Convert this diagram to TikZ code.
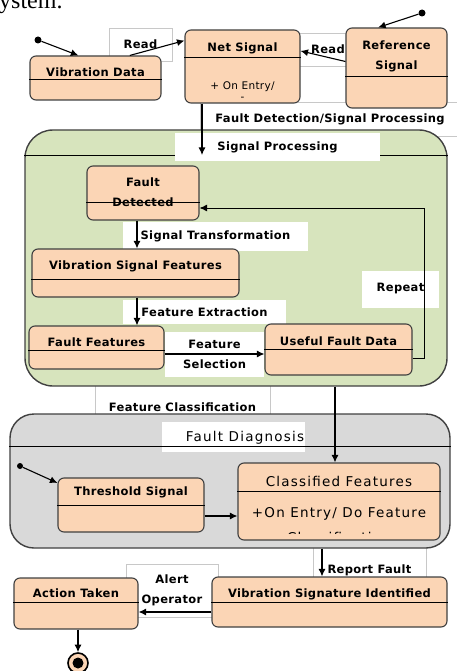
\documentclass[tikz,border=0pt]{standalone}
\usepackage{fontspec}
\setmainfont{DejaVu Sans}[LetterSpace=3]
\newfontfamily\widefont{DejaVu Sans}[LetterSpace=9]
\newfontfamily\pagefont{Liberation Serif}
\usetikzlibrary{arrows.meta,positioning,calc}

\definecolor{statefill}{HTML}{FBD5B5}
\definecolor{procfill}{HTML}{D7E4BD}
\definecolor{diagfill}{HTML}{D9D9D9}
\definecolor{edgegrey}{HTML}{404040}
\definecolor{tagline}{HTML}{C8C8C8}

\begin{document}
\begin{tikzpicture}[
    x=1pt, y=-1pt,
    >={Latex[length=7.5pt,width=7pt]},
    every node/.style={font=\fontsize{11.5}{20}\selectfont\bfseries, align=center, inner sep=0pt},
    statebox/.style={draw=edgegrey, line width=1.1pt, rounded corners=6pt, fill=statefill},
    region/.style={draw=edgegrey, line width=1.4pt},
    tagbox/.style={draw=tagline, fill=white, line width=0.6pt},
    blank/.style={fill=white},
    flow/.style={->, line width=1.1pt},
    divider/.style={draw=black, line width=0.9pt},
    startdot/.style={circle, fill=black, minimum size=7pt},
    plain/.style={font=\fontsize{10.5}{11}\selectfont},
    bigtext/.style={font=\widefont\fontsize{13.5}{15}\selectfont},
  ]
  \useasboundingbox (0,0) rectangle (457,671);
  \clip (0,0) rectangle (457,671);

  % tail of the running text above
  \node[font=\pagefont\fontsize{24}{24}\selectfont, anchor=base west] (pagetext) at (-1,9) {ystem.};

  % transition labels lying under the states
  \node[tagbox, minimum width=63, minimum height=33] (readA) at (140.5,44.5) {Read};
  \node[tagbox, minimum width=60, minimum height=33] (readB) at (328,49.5) {Read};
  \node[tagbox, minimum width=260, minimum height=34] (fdsp) at (330,119) {Fault Detection/Signal Processing};
  \node[tagbox, minimum width=175, minimum height=54] (featclass) at (182.5,407) {Feature Classification};
  \node[tagbox, minimum width=113, minimum height=60] (report) at (369.5,570) {Report Fault};
  \node[tagbox, minimum width=92, minimum height=53] (alert) at (172,590.5) {Alert\\Operator};

  % signal processing super-state
  \node[region, fill=procfill, rounded corners=28pt, minimum width=422, minimum height=256] (sigproc) at (236,258) {};
  \draw[divider] (sigproc.west |- 0,155) -- (sigproc.east |- 0,155);
  \node[blank, minimum width=205, minimum height=28] (sigproclbl) at (277.5,147) {Signal Processing};
  \node[blank, minimum width=185, minimum height=29] (sigtrans) at (215.5,236) {Signal Transformation};
  \node[blank, minimum width=163, minimum height=24] (featext) at (204.5,312) {Feature Extraction};
  \node[blank, minimum width=99, minimum height=45] (featsel) at (214.5,354) {Feature\\Selection};
  \node[blank, minimum width=77, minimum height=37] (repeat) at (400.5,289) {Repeat};

  % fault diagnosis super-state
  \node[region, fill=diagfill, rounded corners=24pt, minimum width=440, minimum height=134] (diag) at (230,481) {};
  \node[blank, minimum width=143, minimum height=30] (diaglbl) at (233.5,437) {};
  \node[bigtext] (diagtxt) at (245,438) {Fault Diagnosis};
  \draw[divider] (diag.west |- 0,446) -- (diag.east |- 0,446);

  % states
  \node[statebox, minimum width=131, minimum height=44] (vibdata) at (95.5,78) {};
  \draw[divider] (vibdata.west |- 0,79) -- (vibdata.east |- 0,79);
  \node (vibdatatxt) at (95.5,72) {Vibration Data};

  \node[statebox, minimum width=115, minimum height=73] (netsig) at (242.5,66.5) {};
  \draw[divider] (netsig.west |- 0,57) -- (netsig.east |- 0,57);
  \node (netsigtxt) at (242.5,48) {Net Signal};
  \node[plain] (netsigdo) at (242.5,91) {+ On Entry/\\-};

  \node[statebox, minimum width=101, minimum height=80] (refsig) at (396.5,68) {};
  \draw[divider] (refsig.west |- 0,76) -- (refsig.east |- 0,76);
  \node (refsigtxt) at (396.5,56) {Reference\\Signal};

  \node[statebox, minimum width=112, minimum height=54] (faultdet) at (143,193) {};
  \node (faultdettxt) at (143,192) {Fault\\Detected};
  \draw[divider] (faultdet.west |- 0,202) -- (faultdet.east |- 0,202);

  \node[statebox, minimum width=207, minimum height=48] (vibfeat) at (135.5,273) {};
  \draw[divider] (vibfeat.west |- 0,279) -- (vibfeat.east |- 0,279);
  \node (vibfeattxt) at (135.5,266) {Vibration Signal Features};

  \node[statebox, minimum width=135, minimum height=43] (faultfeat) at (96.5,347.5) {};
  \draw[divider] (faultfeat.west |- 0,350) -- (faultfeat.east |- 0,350);
  \node (faultfeattxt) at (96.5,342) {Fault Features};

  \node[statebox, minimum width=147, minimum height=51] (useful) at (338.5,349.5) {};
  \draw[divider] (useful.west |- 0,349) -- (useful.east |- 0,349);
  \node (usefultxt) at (338.5,341) {Useful Fault Data};

  \node[statebox, minimum width=146, minimum height=54] (thresh) at (131,505) {};
  \draw[divider] (thresh.west |- 0,505) -- (thresh.east |- 0,505);
  \node (threshtxt) at (131,492) {Threshold Signal};

  \node[statebox, minimum width=202, minimum height=77] (classfeat) at (339,501.5) {};
  \draw[divider] (classfeat.west |- 0,491) -- (classfeat.east |- 0,491);
  \node[bigtext] (classfeattxt) at (339,481) {Classified Features};
  \node[bigtext] (classfeatdo) at (339,514) {+On Entry/ Do Feature};
  \begin{scope}
    \clip (240,524) rectangle (436,533);
    \node[bigtext] (classfeatmore) at (339,537) {Classification};
  \end{scope}

  \node[statebox, minimum width=235, minimum height=50] (vsi) at (329.5,602) {};
  \draw[divider] (vsi.west |- 0,602) -- (vsi.east |- 0,602);
  \node (vsitxt) at (329.5,594) {Vibration Signature Identified};

  \node[statebox, minimum width=124, minimum height=51] (action) at (76,603.5) {};
  \draw[divider] (action.west |- 0,602) -- (action.east |- 0,602);
  \node (actiontxt) at (76,593) {Action Taken};

  % pseudo-states
  \node[startdot] (vibstart) at (38,40) {};
  \node[startdot] (refstart) at (422,13) {};
  \node[startdot, minimum size=6pt] (diagstart) at (20,466) {};
  \node[circle, draw=black, line width=1.6pt, fill=statefill, minimum size=20pt] (final) at (78,663) {};
  \node[circle, fill=black, minimum size=11pt] (finaldot) at (final) {};

  % helper points for the connectors
  \coordinate (sptop) at (202,155);
  \coordinate (leftcol) at (137,0);
  \coordinate (selrow) at (0,354);
  \coordinate (loopback) at (424,208);
  \coordinate (classcol) at (335,0);
  \coordinate (threshrow) at (0,516);
  \coordinate (reportcol) at (322,0);
  \coordinate (alertrow) at (0,612);

  % transitions
  \draw[flow] (vibstart) -- ($(vibdata.north west)!0.37!(vibdata.north east)$);
  \draw[flow] (refstart) -- ($(refsig.north west)!0.32!(refsig.north east)$);
  \draw[flow] ($(vibdata.north west)!0.76!(vibdata.north east)$) -- ($(netsig.north west)!0.15!(netsig.south west)$);
  \draw[flow] ($(refsig.north west)!0.42!(refsig.south west)$) -- ($(netsig.north east)!0.29!(netsig.south east)$);
  \draw[flow] (netsig.south -| sptop) -- (sptop);
  \draw[flow] (faultdet.south -| leftcol) -- (vibfeat.north -| leftcol);
  \draw[flow] (vibfeat.south -| leftcol) -- (faultfeat.north -| leftcol);
  \draw[flow] (faultfeat.east |- selrow) -- (useful.west |- selrow);
  \draw[flow, line width=0.9pt] (useful.east |- 0,358) -| (loopback) -- (faultdet.east |- loopback);
  \draw[flow] (sigproc.south -| classcol) -- (classfeat.north -| classcol);
  \draw[flow] (diagstart) -- ($(thresh.north west)!0.1!(thresh.south west)$);
  \draw[flow] (thresh.east |- threshrow) -- (classfeat.west |- threshrow);
  \draw[flow] (diag.south -| reportcol) -- (vsi.north -| reportcol);
  \draw[flow] (vsi.west |- alertrow) -- (action.east |- alertrow);
  \draw[flow] (action.south -| final) -- (final);
\end{tikzpicture}
\end{document}
